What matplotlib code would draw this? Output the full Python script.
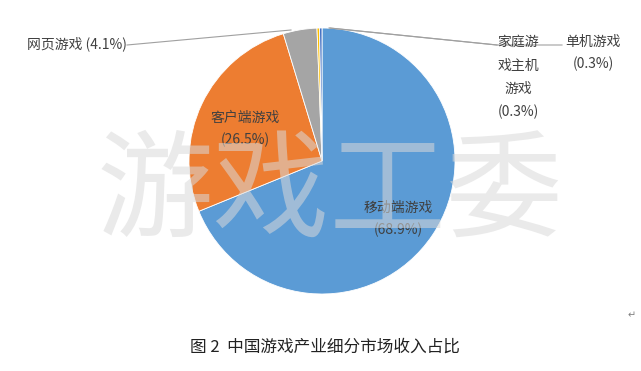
import matplotlib
matplotlib.use("Agg")
import matplotlib.pyplot as plt

plt.rcParams["font.family"] = ["Noto Sans CJK SC", "DejaVu Sans"]

# ── Data ──────────────────────────────────────────────────────────────────────
segments = ["移动端游戏", "客户端游戏", "网页游戏", "家庭游戏主机游戏", "单机游戏"]
shares = [68.9, 26.5, 4.1, 0.3, 0.3]
colors = ["#5B9BD5", "#ED7D31", "#A5A5A5", "#FFC000", "#4472C4"]

W, H = 641, 371
CX, CY, R = 322, 161, 133
TXT = "#404040"


def fy(y):
    """pixel row (top-down) -> axes y (bottom-up)"""
    return H - y


fig = plt.figure(figsize=(W / 100, H / 100), dpi=100)
ax = fig.add_axes([0, 0, 1, 1])

ax.pie(shares, colors=colors, startangle=90, counterclock=False,
       center=(CX, fy(CY)), radius=R,
       wedgeprops=dict(edgecolor="white", linewidth=0.6))

ax.set_xlim(0, W)
ax.set_ylim(0, H)
ax.set_aspect("equal")
ax.axis("off")

# ── Labels ────────────────────────────────────────────────────────────────────
ax.text(398, fy(208), f"{segments[0]}", ha="center", va="center", fontsize=10, color=TXT)
ax.text(398, fy(230), f"({shares[0]}%)", ha="center", va="center", fontsize=10, color=TXT)
ax.text(245, fy(118), f"{segments[1]}", ha="center", va="center", fontsize=10, color=TXT)
ax.text(245, fy(140), f"({shares[1]}%)", ha="center", va="center", fontsize=10, color=TXT)
ax.text(27, fy(44), f"{segments[2]} ({shares[2]}%)", ha="left", va="center",
        fontsize=10, color=TXT)
for y, s in zip([42, 66, 89, 112], ["家庭游", "戏主机", "游戏", f"({shares[3]}%)"]):
    ax.text(518, fy(y), s, ha="center", va="center", fontsize=10, color=TXT)
ax.text(593, fy(42), segments[4], ha="center", va="center", fontsize=10, color=TXT)
ax.text(593, fy(64), f"({shares[4]}%)", ha="center", va="center", fontsize=10, color=TXT)

# leader lines
ax.plot([127, 291], [fy(45), fy(30)], color="#a0a0a0", lw=0.8)
ax.plot([329, 497], [fy(28), fy(45)], color="#a0a0a0", lw=0.8)
ax.plot([330, 497, 562], [fy(28), fy(45), fy(45)], color="#a0a0a0", lw=0.8)

# watermark
ax.text(330, fy(195), "游戏工委", ha="center", va="center", fontsize=84,
        fontweight="light", color="#d9d9d9", alpha=0.55)

# caption
ax.text(190, fy(347), "图 2  中国游戏产业细分市场收入占比", ha="left", va="center",
        fontsize=12, color="#222222")
ax.text(632, fy(315), "↵", ha="center", va="center", fontsize=7, color="#808080")

fig.savefig("out.png", dpi=100)
